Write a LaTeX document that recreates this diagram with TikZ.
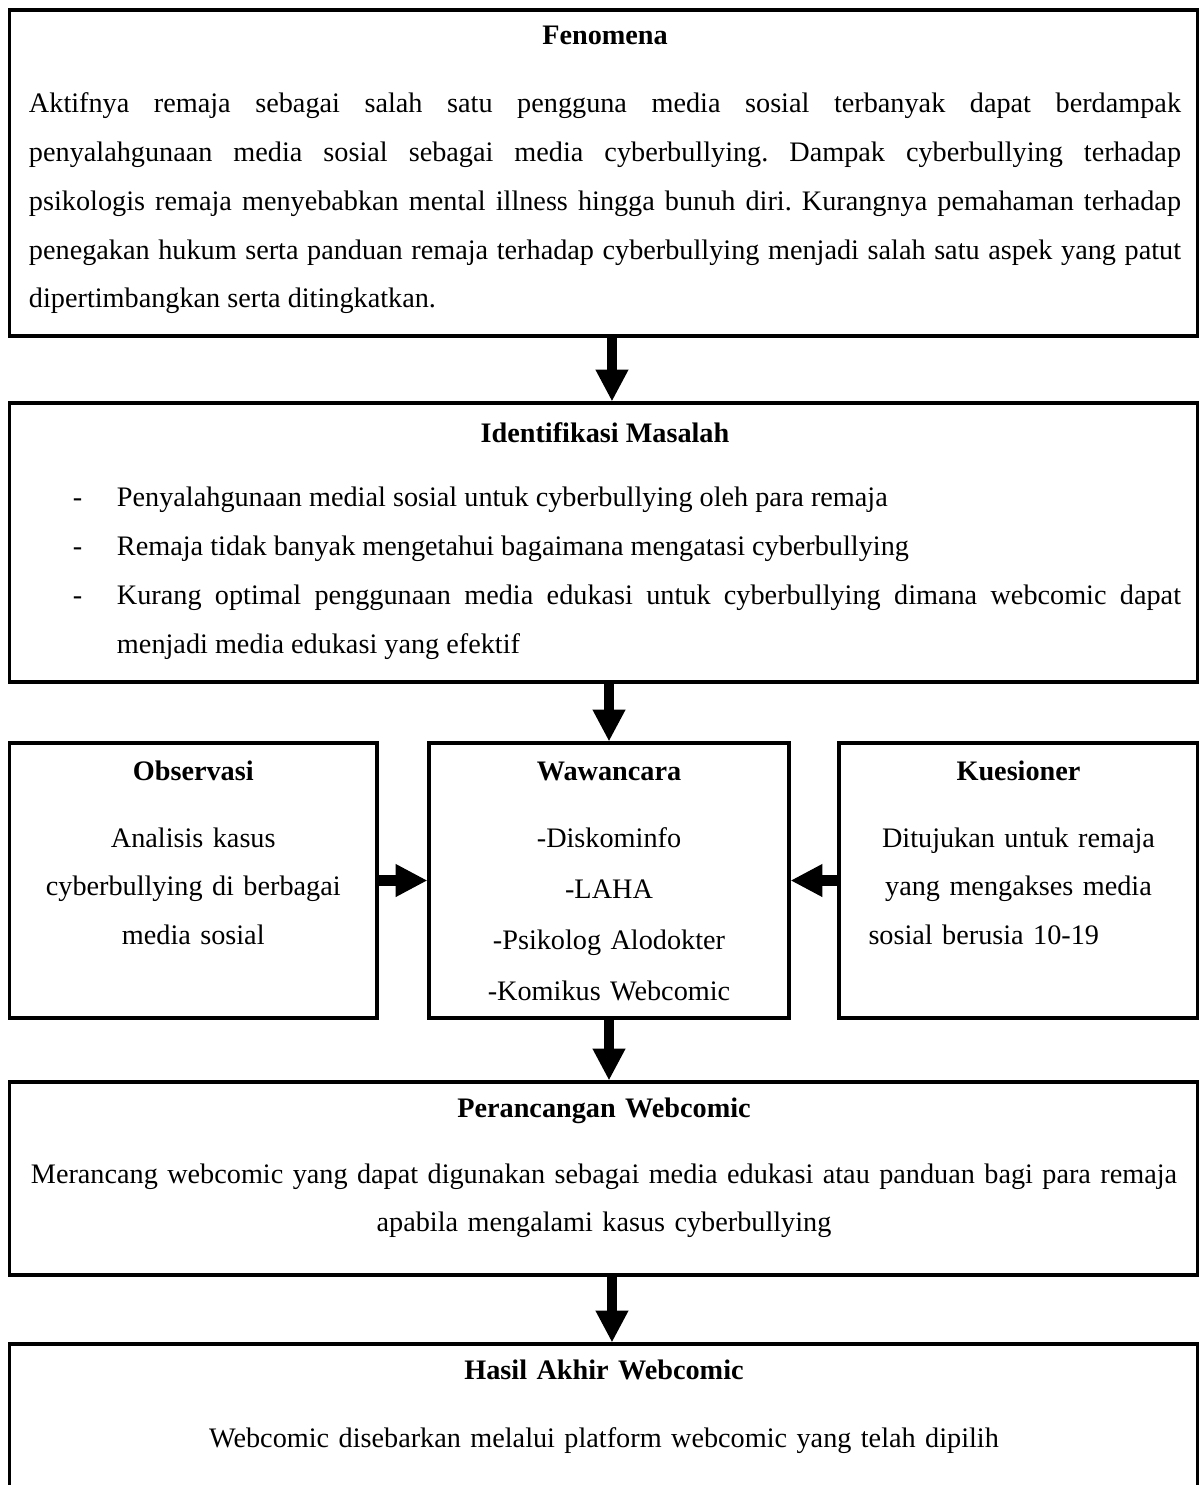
\documentclass[tikz,border=0pt]{standalone}
\usepackage{fontspec}
\setmainfont{Liberation Serif}
\usetikzlibrary{arrows.meta}
\newcommand{\pxu}{0.425pt}
\newcommand{\dashitem}[1]{\par\noindent\hangindent=37.4pt\hangafter=1\hspace*{18.7pt}\makebox[18.7pt][l]{-}#1\par}
\hyphenpenalty=10000
\exhyphenpenalty=10000
\tolerance=10000
\hbadness=10000
\frenchspacing

\begin{document}
\begin{tikzpicture}[x=\pxu, y=-\pxu,
        box/.style={draw, line width=1.3pt, inner sep=0pt},
        txt/.style={anchor=base, inner sep=0pt, font=\fontsize{12}{20.7}\selectfont},
        arr/.style={line width=4.3pt, -{Triangle[width=13pt,length=13.5pt]}}
    ]
        \useasboundingbox (0,0) rectangle (1199,1485);
        \clip (0,0) rectangle (1199,1485);
        % Boxes
        \node[box, minimum width=1188*\pxu, minimum height=326*\pxu] (fen) at (603.5,173) {};
        \node[box, minimum width=1188*\pxu, minimum height=279*\pxu] (idn) at (603.5,542.5) {};
        \node[box, minimum width=367.5*\pxu, minimum height=275*\pxu] (obs) at (193.25,880.5) {};
        \node[box, minimum width=360*\pxu, minimum height=275*\pxu] (waw) at (609,880.5) {};
        \node[box, minimum width=359*\pxu, minimum height=275*\pxu] (kue) at (1018.5,880.5) {};
        \node[box, minimum width=1188*\pxu, minimum height=193*\pxu] (per) at (603.5,1178.5) {};
        \node[box, minimum width=1188*\pxu, minimum height=216*\pxu] (has) at (603.5,1452) {};
        % Texts
        \node[txt, text width=1152*\pxu, align=justify] (fentext) at (605,45) {\centerline{\bfseries Fenomena}\vskip8.2pt
            Aktifnya remaja sebagai salah satu pengguna media sosial terbanyak dapat berdampak\linebreak
            penyalahgunaan media sosial sebagai media cyberbullying. Dampak cyberbullying terhadap\linebreak
            psikologis remaja menyebabkan mental illness hingga bunuh diri. Kurangnya pemahaman terhadap\linebreak
            penegakan hukum serta panduan remaja terhadap cyberbullying menjadi salah satu aspek yang patut\linebreak
            dipertimbangkan serta ditingkatkan.};
        \node[txt, text width=1152*\pxu, align=justify] (idntext) at (605,442) {\centerline{\bfseries Identifikasi Masalah}\vskip6.9pt
            \dashitem{Penyalahgunaan medial sosial untuk cyberbullying oleh para remaja}
            \dashitem{Remaja tidak banyak mengetahui bagaimana mengatasi cyberbullying}
            \dashitem{Kurang optimal penggunaan media edukasi untuk cyberbullying dimana webcomic dapat\linebreak menjadi media edukasi yang efektif}};
        \node[txt, text width=340*\pxu, align=center] (obstext) at (193.25,780) {\textbf{Observasi}\\[7.8pt]
            Analisis kasus\\ cyberbullying di berbagai\\ media sosial};
        \node[txt, text width=340*\pxu, align=center, font=\fontsize{12}{21.7}\selectfont] (wawtext) at (609,780) {\textbf{Wawancara}\\[6.8pt]
            -Diskominfo\\ -LAHA\\ -Psikolog Alodokter\\ -Komikus Webcomic};
        \node[txt, text width=340*\pxu, align=center] (kuetext) at (1018.5,780) {\textbf{Kuesioner}\\[7.8pt]
            Ditujukan untuk remaja\\ yang mengakses media\\ \makebox[127.5pt][l]{sosial berusia 10-19}};
        \node[txt, text width=1152*\pxu, align=center] (pertext) at (604,1117) {\textbf{Perancangan Webcomic}\\[7.4pt]
            Merancang webcomic yang dapat digunakan sebagai media edukasi atau panduan bagi para remaja\\
            apabila mengalami kasus cyberbullying};
        \node[txt, text width=1152*\pxu, align=center] (hastext) at (604,1379) {\textbf{Hasil Akhir Webcomic}\\[8.6pt]
            Webcomic disebarkan melalui platform webcomic yang telah dipilih};
        % Arrows
        \draw[arr] ([xshift=3.6pt]fen.south) -- ([xshift=3.6pt]idn.north);
        \draw[arr] (idn.south -| waw.north) -- (waw.north);
        \draw[arr] (waw.south) -- (waw.south |- per.north);
        \draw[arr] ([xshift=3.6pt]per.south) -- ([xshift=3.6pt]has.north);
        \draw[arr] (obs.east) -- (waw.west);
        \draw[arr] (kue.west) -- (waw.east);
    \end{tikzpicture}
\end{document}
